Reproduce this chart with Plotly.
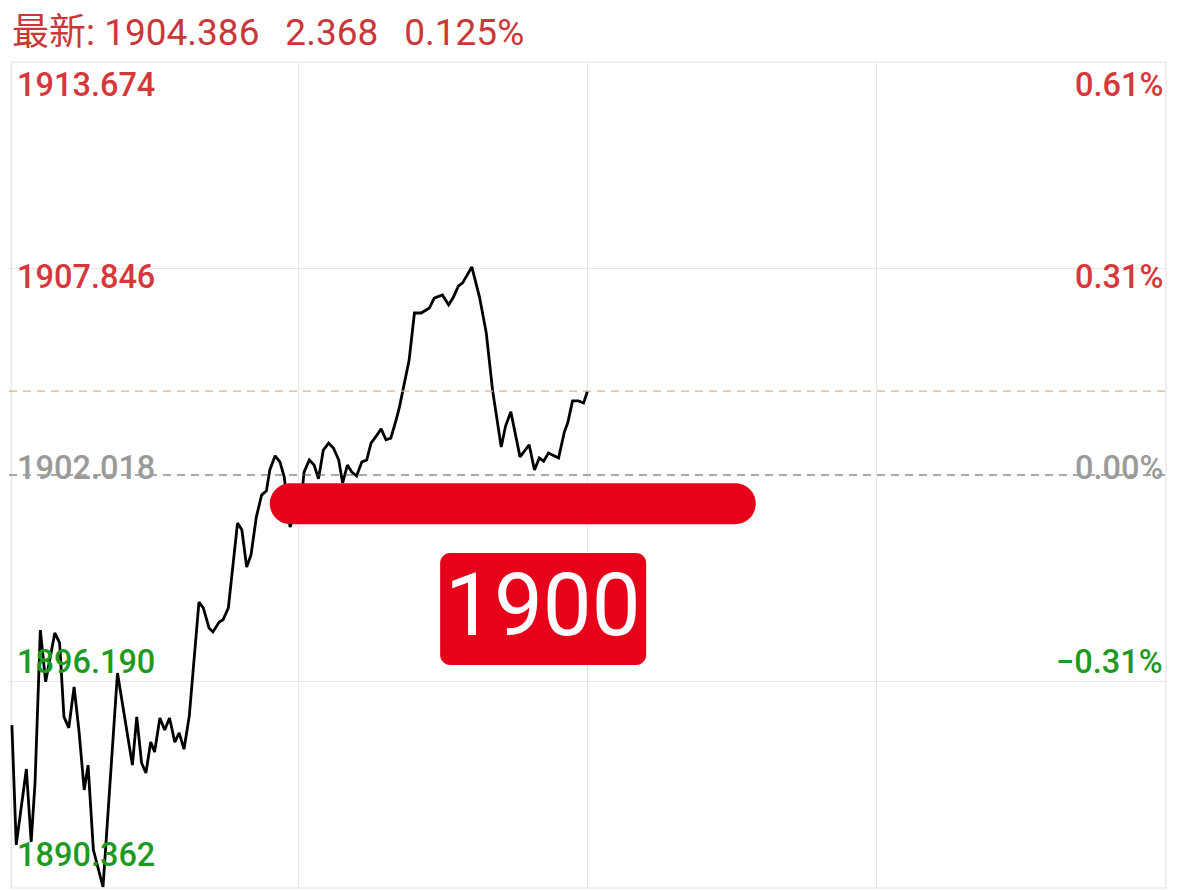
import plotly.graph_objects as go

# ---- data (minutes since open, index price) ----
minutes = [0.6, 1.5, 3.6, 4.6, 5.4, 6.5, 7.6, 9.5, 10.5, 11.4, 12.4, 13.5, 14.5, 15.6, 16.4, 17.5,
           19.5, 22.5, 25.6, 26.5, 27.5, 28.4, 29.4, 30.2, 31.3, 32.3, 33.3, 34.4, 35.3, 36.3,
           37.4, 39.4, 40.3, 41.5, 42.3, 43.6, 44.4, 45.5, 47.4, 48.3, 49.3, 50.2, 51.3, 52.4,
           53.4, 54.1, 55.2, 56.2, 57.1, 58.3, 60.9, 61.2, 62.3, 63.3, 64.2, 65.2, 66.3, 67.3,
           68.4, 69.2, 70.2, 71.1, 72.1, 73.2, 74.2, 75.1, 76.2, 77.2, 78.2, 79.2, 80.3, 81.0,
           83.0, 84.1, 85.5, 87.2, 88.2, 89.9, 91.2, 92.2, 93.2, 94.1, 96.0, 97.6, 99.0, 100.3,
           102.1, 103.0, 104.1, 106.0, 107.9, 109.0, 110.0, 110.9, 111.9, 114.0, 115.2, 115.9,
           116.9, 118.1, 119.2, 120.0]
prices = [1894.96, 1891.58, 1893.72, 1891.66, 1893.33, 1897.64, 1896.18, 1897.56, 1897.28, 1895.19,
          1894.88, 1896.04, 1894.82, 1893.13, 1893.83, 1891.44, 1890.39, 1896.43, 1893.83, 1895.19,
          1893.89, 1893.61, 1894.48, 1894.20, 1895.16, 1894.82, 1895.16, 1894.48, 1894.74, 1894.28,
          1895.22, 1898.43, 1898.27, 1897.70, 1897.59, 1897.87, 1897.93, 1898.27, 1900.66, 1900.47,
          1899.42, 1899.76, 1900.83, 1901.45, 1901.57, 1902.16, 1902.56, 1902.39, 1901.96, 1900.55,
          1901.68, 1902.10, 1902.44, 1902.30, 1901.91, 1902.72, 1902.92, 1902.78, 1902.44, 1901.79,
          1902.30, 1902.10, 1901.99, 1902.39, 1902.44, 1902.92, 1903.12, 1903.32, 1903.01, 1903.06,
          1903.57, 1903.94, 1905.26, 1906.59, 1906.59, 1906.73, 1907.01, 1907.10, 1906.82, 1907.04,
          1907.35, 1907.44, 1907.89, 1907.04, 1906.03, 1904.42, 1902.81, 1903.40, 1903.80, 1902.53,
          1902.87, 1902.16, 1902.50, 1902.41, 1902.64, 1902.50, 1903.23, 1903.49, 1904.11, 1904.11,
          1904.05, 1904.386]

prev_close = 1902.018
latest = 1904.386
change = 2.368
change_pct = 0.125
y_min, y_max = 1890.362, 1913.674
left_labels = ["1913.674", "1907.846", "1902.018", "1896.190", "1890.362"]
level_values = [1913.674, 1907.846, 1902.018, 1896.190, 1890.362]
right_labels = ["0.61%", "0.31%", "0.00%", "\u22120.31%", ""]
highlight_text = "1900"

RED = "#d5383b"
GREEN = "#1e9a22"
GRAY = "#9a9a9a"
FONT = "Roboto"

fig = go.Figure()
fig.add_trace(go.Scatter(x=minutes, y=prices, mode="lines",
                         line=dict(color="#000000", width=2.8), hoverinfo="skip"))

fig.update_layout(
    width=1179, height=890,
    margin=dict(l=9, r=13, t=62, b=2),
    paper_bgcolor="white", plot_bgcolor="white",
    showlegend=False,
    xaxis=dict(range=[0, 240], tickvals=[60, 120, 180], showticklabels=False,
               showgrid=True, gridcolor="#e6e6e6", gridwidth=1, zeroline=False, fixedrange=True),
    yaxis=dict(range=[y_min, y_max], tickvals=[level_values[1], level_values[3]], showticklabels=False,
               showgrid=True, gridcolor="#e6e6e6", gridwidth=1, zeroline=False, fixedrange=True),
)

shapes = []
# plot border
shapes.append(dict(type="rect", xref="paper", yref="paper", x0=0.002, x1=1, y0=0, y1=1,
                   line=dict(color="#e3e3e3", width=1.2), layer="below"))
# previous close dashed line
shapes.append(dict(type="line", xref="paper", yref="y", x0=0, x1=1, y0=prev_close, y1=prev_close,
                   line=dict(color="#555555", width=1.2, dash="8px,6px"), layer="above"))
# latest price dashed line
shapes.append(dict(type="line", xref="paper", yref="y", x0=0, x1=1, y0=latest, y1=latest,
                   line=dict(color="#d8b48e", width=1.2, dash="8px,6px"), layer="above"))

def rounded_path(w, h, r):
    k = 0.5523 * r
    hw, hh = w / 2, h / 2
    return (f"M {-hw + r},{-hh} L {hw - r},{-hh} "
            f"C {hw - r + k},{-hh} {hw},{-hh + r - k} {hw},{-hh + r} "
            f"L {hw},{hh - r} "
            f"C {hw},{hh - r + k} {hw - r + k},{hh} {hw - r},{hh} "
            f"L {-hw + r},{hh} "
            f"C {-hw + r - k},{hh} {-hw},{hh - r + k} {-hw},{hh - r} "
            f"L {-hw},{-hh + r} "
            f"C {-hw},{-hh + r - k} {-hw + r - k},{-hh} {-hw + r},{-hh} Z")

# red highlight pill
shapes.append(dict(type="path", xref="x", yref="y", xsizemode="pixel", ysizemode="pixel",
                   xanchor=104.5, yanchor=1901.21, path=rounded_path(486, 41, 20.5),
                   fillcolor="#e60019", line=dict(width=0), layer="above"))
# red box for "1900"
shapes.append(dict(type="path", xref="x", yref="y", xsizemode="pixel", ysizemode="pixel",
                   xanchor=110.8, yanchor=1898.237, path=rounded_path(206, 112, 10),
                   fillcolor="#e60019", line=dict(width=0), layer="above"))
fig.update_layout(shapes=shapes)

annotations = []
# header
annotations.append(dict(xref="paper", yref="paper", x=0, y=1, xanchor="left", yanchor="bottom",
                        xshift=1, yshift=6, showarrow=False,
                        text=f"最新: {latest:.3f}  \u2009{change:.3f}  \u2009{change_pct:.3f}%",
                        font=dict(family=f"{FONT}, Noto Sans CJK SC", size=37, color="#c9373a")))

label_colors = [RED, RED, GRAY, GREEN, GREEN]
anchors = ["top", "middle", "middle", "middle", "bottom"]
shifts = [-2, -8, 7, 20, 12]
for lab, val, rlab, col, anc, sh in zip(left_labels, level_values, right_labels, label_colors, anchors, shifts):
    annotations.append(dict(xref="paper", yref="y", x=0, y=val, xanchor="left", yanchor=anc,
                            xshift=6, yshift=sh, showarrow=False, text=lab,
                            font=dict(family=FONT, size=32.5, color=col, weight=500)))
    if rlab:
        annotations.append(dict(xref="paper", yref="y", x=1, y=val, xanchor="right", yanchor=anc,
                                xshift=-1, yshift=sh, showarrow=False, text=rlab,
                                font=dict(family=FONT, size=32.5, color=col, weight=500)))

annotations.append(dict(xref="x", yref="y", x=110.8, y=1898.237, xanchor="center", yanchor="middle",
                        yshift=4, showarrow=False, text=highlight_text,
                        font=dict(family=FONT, size=87, color="white")))
fig.update_layout(annotations=annotations)

fig.write_html("out.html", config={"displayModeBar": False},
               post_script="document.body.style.margin='0';")
